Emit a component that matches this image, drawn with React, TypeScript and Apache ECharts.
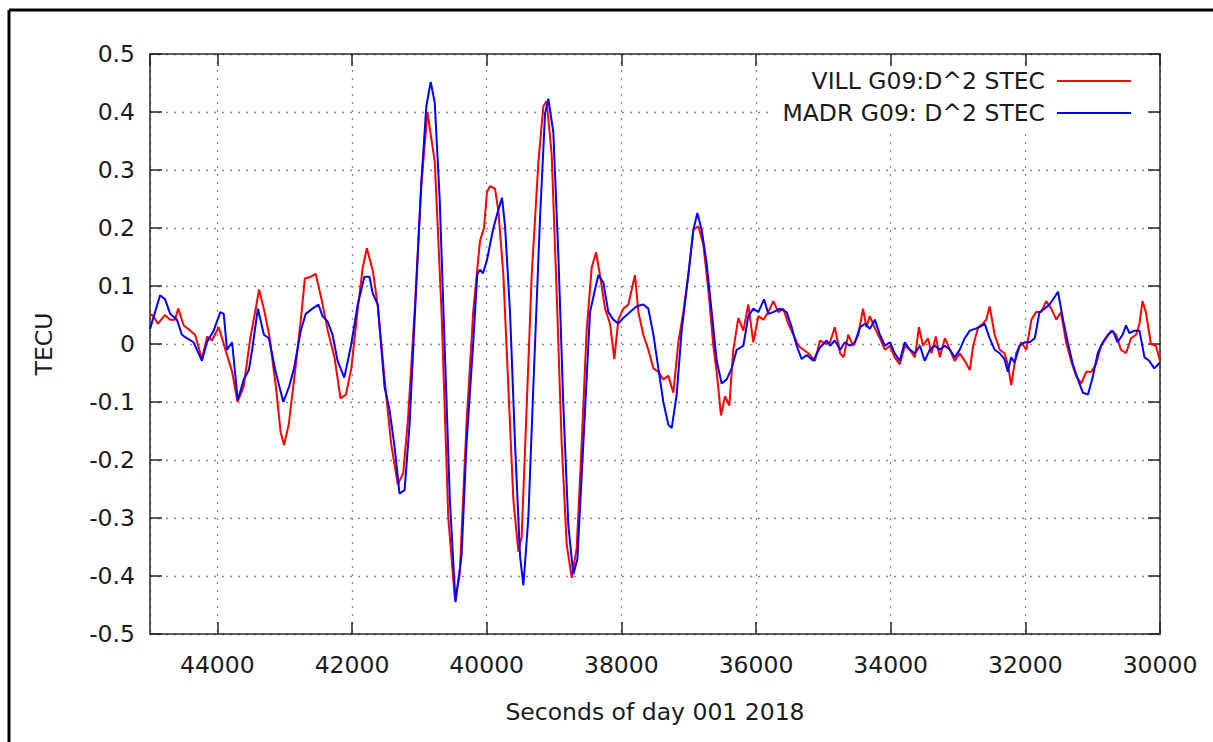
import React, { useEffect, useRef } from "react";
import * as echarts from "echarts";

const SERIES_NAMES = ["VILL G09:D^2 STEC", "MADR G09: D^2 STEC"];
const X_TITLE = "Seconds of day 001 2018";
const Y_TITLE = "TECU";

// VILL G09 (red): [seconds of day, TECU]
const villData: [number, number][] = [
  [45000, 0.052], [44950, 0.048], [44880, 0.035], [44780, 0.05], [44700, 0.042], [44630, 0.042],
  [44580, 0.061], [44500, 0.032], [44400, 0.023], [44330, 0.016], [44230, -0.026], [44150, 0.013],
  [44080, 0.006], [43980, 0.029], [43880, -0.01], [43780, -0.048], [43700, -0.1], [43610, -0.074],
  [43510, 0.01], [43430, 0.061], [43380, 0.094], [43310, 0.061], [43230, 0.016], [43130, -0.074],
  [43060, -0.152], [43010, -0.174], [42940, -0.139], [42840, -0.042], [42760, 0.042], [42700, 0.113],
  [42610, 0.116], [42540, 0.121], [42460, 0.081], [42360, 0.023], [42260, -0.023], [42170, -0.094],
  [42090, -0.087], [42010, -0.042], [41920, 0.055], [41840, 0.132], [41780, 0.165], [41690, 0.126],
  [41620, 0.068], [41520, -0.055], [41420, -0.171], [41320, -0.242], [41240, -0.223], [41170, -0.132],
  [41070, 0.055], [40970, 0.274], [40880, 0.4], [40770, 0.313], [40670, 0.055], [40570, -0.3],
  [40470, -0.442], [40400, -0.397], [40300, -0.139], [40200, 0.055], [40100, 0.177], [40040, 0.2],
  [39995, 0.262], [39950, 0.272], [39876, 0.268], [39826, 0.229], [39752, 0.119], [39678, -0.074],
  [39604, -0.268], [39529, -0.358], [39480, -0.332], [39405, -0.106], [39331, 0.119], [39232, 0.313],
  [39158, 0.41], [39109, 0.419], [39034, 0.326], [38960, 0.087], [38886, -0.171], [38812, -0.345],
  [38737, -0.403], [38663, -0.352], [38589, -0.171], [38515, 0.023], [38440, 0.132], [38376, 0.158],
  [38317, 0.119], [38242, 0.061], [38168, 0.035], [38104, -0.026], [38044, 0.042], [37970, 0.061],
  [37896, 0.068], [37846, 0.094], [37797, 0.119], [37747, 0.055], [37673, 0.016], [37599, -0.01],
  [37524, -0.042], [37450, -0.048], [37376, -0.061], [37302, -0.055], [37227, -0.084], [37153, 0.003],
  [37079, 0.055], [37005, 0.119], [36930, 0.197], [36856, 0.203], [36782, 0.171], [36708, 0.094],
  [36634, -0.003], [36584, -0.048], [36520, -0.123], [36460, -0.09], [36396, -0.106], [36337, -0.01],
  [36262, 0.045], [36188, 0.023], [36114, 0.068], [36040, 0.003], [35965, 0.048], [35891, 0.042],
  [35817, 0.055], [35743, 0.074], [35668, 0.055], [35594, 0.061], [35520, 0.035], [35446, 0.016],
  [35371, -0.003], [35297, -0.01], [35223, -0.016], [35124, -0.029], [35050, 0.006], [34960, 0.0],
  [34900, 0.003], [34830, 0.029], [34750, -0.016], [34700, -0.023], [34630, 0.016], [34560, -0.003],
  [34480, 0.016], [34410, 0.061], [34360, 0.029], [34310, 0.048], [34230, 0.026], [34160, 0.01],
  [34085, -0.01], [34010, -0.003], [33940, -0.023], [33865, -0.035], [33790, -0.003], [33715, -0.01],
  [33640, -0.023], [33580, 0.029], [33520, -0.003], [33445, 0.01], [33395, -0.016], [33330, 0.013],
  [33270, -0.023], [33195, 0.01], [33120, -0.01], [33050, -0.029], [32975, -0.016], [32900, -0.029],
  [32825, -0.045], [32775, -0.003], [32700, 0.029], [32630, 0.035], [32580, 0.042], [32530, 0.065],
  [32455, 0.016], [32380, -0.01], [32310, -0.016], [32260, -0.035], [32210, -0.071], [32135, -0.016],
  [32060, 0.003], [31985, -0.01], [31910, 0.042], [31840, 0.055], [31765, 0.055], [31690, 0.074],
  [31615, 0.061], [31540, 0.042], [31470, 0.055], [31395, 0.003], [31320, -0.029], [31245, -0.055],
  [31170, -0.068], [31095, -0.048], [31020, -0.048], [30950, -0.035], [30875, -0.003], [30800, 0.01],
  [30725, 0.023], [30650, 0.016], [30580, -0.01], [30505, -0.016], [30430, 0.01], [30355, 0.016],
  [30305, 0.035], [30260, 0.074], [30210, 0.055], [30135, 0.0], [30060, -0.003], [30000, -0.029],
];

// MADR G09 (blue): [seconds of day, TECU]
const madrData: [number, number][] = [
  [45000, 0.026], [44925, 0.055], [44850, 0.084], [44776, 0.077], [44700, 0.052], [44600, 0.042],
  [44527, 0.016], [44453, 0.01], [44353, 0.003], [44229, -0.029], [44154, 0.003], [44055, 0.023],
  [43955, 0.055], [43905, 0.052], [43856, -0.01], [43781, 0.003], [43697, -0.097], [43607, -0.061],
  [43532, -0.045], [43483, -0.01], [43398, 0.061], [43308, 0.016], [43234, 0.01], [43134, -0.048],
  [43020, -0.1], [42935, -0.074], [42861, -0.042], [42761, 0.023], [42687, 0.052], [42587, 0.061],
  [42498, 0.068], [42438, 0.048], [42363, 0.039], [42289, 0.016], [42214, -0.029], [42115, -0.058],
  [42015, -0.003], [41915, 0.068], [41816, 0.116], [41741, 0.116], [41692, 0.087], [41617, 0.068],
  [41517, -0.074], [41443, -0.113], [41368, -0.177], [41294, -0.258], [41219, -0.252], [41145, -0.139],
  [41070, 0.042], [40970, 0.281], [40896, 0.41], [40831, 0.452], [40771, 0.416], [40697, 0.248],
  [40622, -0.01], [40547, -0.268], [40463, -0.445], [40373, -0.365], [40299, -0.171], [40199, 0.003],
  [40140, 0.12], [40100, 0.128], [40055, 0.122], [39995, 0.145], [39906, 0.197], [39830, 0.23],
  [39772, 0.252], [39727, 0.203], [39653, 0.055], [39579, -0.171], [39505, -0.365], [39455, -0.416],
  [39381, -0.3], [39307, -0.074], [39208, 0.216], [39133, 0.397], [39084, 0.423], [39010, 0.365],
  [38935, 0.152], [38861, -0.106], [38787, -0.313], [38713, -0.397], [38653, -0.371], [38564, -0.171],
  [38465, 0.055], [38391, 0.094], [38341, 0.119], [38267, 0.106], [38193, 0.055], [38119, 0.042],
  [38044, 0.035], [37970, 0.045], [37871, 0.055], [37772, 0.065], [37673, 0.068], [37599, 0.061],
  [37524, 0.016], [37450, -0.042], [37376, -0.1], [37302, -0.139], [37252, -0.145], [37178, -0.087],
  [37104, 0.023], [37005, 0.119], [36930, 0.197], [36871, 0.226], [36807, 0.197], [36733, 0.139],
  [36658, 0.055], [36584, -0.029], [36510, -0.068], [36436, -0.061], [36361, -0.042], [36287, -0.01],
  [36188, -0.003], [36114, 0.048], [36040, 0.061], [35965, 0.055], [35881, 0.077], [35817, 0.052],
  [35743, 0.055], [35644, 0.061], [35545, 0.055], [35470, 0.029], [35396, -0.003], [35322, -0.026],
  [35248, -0.019], [35149, -0.029], [35050, -0.006], [34950, 0.006], [34900, -0.003], [34830, 0.006],
  [34750, -0.01], [34680, 0.003], [34605, -0.003], [34530, 0.003], [34455, 0.029], [34380, 0.035],
  [34310, 0.026], [34235, 0.042], [34160, 0.016], [34085, -0.003], [34010, 0.003], [33940, -0.016],
  [33865, -0.029], [33790, 0.003], [33715, -0.01], [33640, -0.016], [33565, -0.003], [33495, -0.029],
  [33420, -0.01], [33345, -0.003], [33270, -0.01], [33195, -0.003], [33120, -0.01], [33050, -0.023],
  [32975, -0.01], [32900, 0.01], [32825, 0.023], [32750, 0.026], [32680, 0.029], [32605, 0.035],
  [32530, 0.01], [32455, -0.01], [32380, -0.016], [32310, -0.026], [32260, -0.048], [32210, -0.023],
  [32160, -0.032], [32085, -0.003], [32010, 0.003], [31935, 0.003], [31860, 0.01], [31790, 0.055],
  [31715, 0.061], [31640, 0.068], [31565, 0.081], [31515, 0.09], [31440, 0.042], [31370, 0.003],
  [31295, -0.035], [31220, -0.061], [31145, -0.084], [31070, -0.087], [30995, -0.055], [30925, -0.016],
  [30850, 0.003], [30775, 0.016], [30700, 0.023], [30630, 0.003], [30555, 0.016], [30505, 0.032],
  [30455, 0.019], [30380, 0.023], [30305, 0.023], [30230, -0.023], [30160, -0.029], [30085, -0.042],
  [30000, -0.032],
];

const X_MIN = 30000;
const X_MAX = 45000;
const X_STEP = 2000;
const Y_MIN = -0.5;
const Y_MAX = 0.5;
const Y_STEP = 0.1;

const FONT = "DejaVu Sans";
const TEXT_COLOR = "#1a1a1a";
const AXIS_COLOR = "#262626";
const GRID_COLOR = "#8c8c8c";
const FS = 23.5;

export default function App() {
  const ref = useRef<HTMLDivElement>(null);

  useEffect(() => {
    if (!ref.current) return;
    const chart = echarts.init(ref.current, undefined, { renderer: "svg" });

    const axisLine = { show: true, onZero: false, lineStyle: { color: AXIS_COLOR, width: 1.5 } };
    const axisTick = { show: true, inside: true, length: 12, lineStyle: { color: AXIS_COLOR, width: 1.5 } };
    const splitLine = { show: true, lineStyle: { color: GRID_COLOR, width: 1.3, type: [2, 6] as any } };
    const yFmt = (v: number) => String(parseFloat(v.toFixed(1)));
    const xFmt = (v: number) => String(Math.round(v));

    chart.setOption({
      animation: false,
      backgroundColor: "#ffffff",
      grid: { left: 150, right: 53, top: 54, bottom: 108, containLabel: false },
      xAxis: [
        {
          type: "value", min: X_MIN, max: X_MAX, interval: X_STEP, inverse: true, position: "bottom",
          axisLine, axisTick, splitLine,
          axisLabel: { show: true, margin: 19, fontSize: FS, fontFamily: FONT, color: TEXT_COLOR, showMaxLabel: false, showMinLabel: true, formatter: xFmt },
          name: X_TITLE, nameLocation: "middle", nameGap: 66,
          nameTextStyle: { fontSize: FS, fontFamily: FONT, color: TEXT_COLOR },
        },
        {
          type: "value", min: X_MIN, max: X_MAX, interval: X_STEP, inverse: true, position: "top",
          axisLine, axisTick, splitLine: { show: false }, axisLabel: { show: false },
        },
      ],
      yAxis: [
        {
          type: "value", min: Y_MIN, max: Y_MAX, interval: Y_STEP, position: "left",
          axisLine, axisTick, splitLine,
          axisLabel: { show: true, margin: 15, fontSize: FS, fontFamily: FONT, color: TEXT_COLOR, formatter: yFmt },
          name: Y_TITLE, nameLocation: "middle", nameGap: 94, nameRotate: 90,
          nameTextStyle: { fontSize: FS, fontFamily: FONT, color: TEXT_COLOR },
        },
        {
          type: "value", min: Y_MIN, max: Y_MAX, interval: Y_STEP, position: "right",
          axisLine, axisTick, splitLine: { show: false }, axisLabel: { show: false },
        },
      ],
      legend: [
        {
          data: [SERIES_NAMES[0]], orient: "vertical", align: "right", right: 82, top: 69, padding: 0,
          icon: "rect", itemWidth: 74, itemHeight: 2,
          textStyle: { fontSize: FS, fontFamily: FONT, color: TEXT_COLOR, padding: [0, 7, 0, 0] },
        },
        {
          data: [SERIES_NAMES[1]], orient: "vertical", align: "right", right: 82, top: 101, padding: 0,
          icon: "rect", itemWidth: 74, itemHeight: 2,
          textStyle: { fontSize: FS, fontFamily: FONT, color: TEXT_COLOR, padding: [0, 7, 0, 0] },
        },
      ],
      graphic: [
        { type: "rect", z: 1, shape: { x: 772, y: 67, width: 374, height: 61 }, style: { fill: "#ffffff" } },
        { type: "line", z: 10, shape: { x1: 9, y1: 10, x2: 1213, y2: 10 }, style: { stroke: "#000", lineWidth: 3 } },
        { type: "line", z: 10, shape: { x1: 9, y1: 10, x2: 9, y2: 742 }, style: { stroke: "#000", lineWidth: 3 } },
      ],
      series: [
        {
          name: SERIES_NAMES[0], type: "line", data: villData, showSymbol: false, z: 3,
          lineStyle: { color: "#ff0000", width: 2 }, itemStyle: { color: "#ff0000" },
        },
        {
          name: SERIES_NAMES[1], type: "line", data: madrData, showSymbol: false, z: 4,
          lineStyle: { color: "#0000ff", width: 2 }, itemStyle: { color: "#0000ff" },
        },
      ],
    });

    return () => chart.dispose();
  }, []);

  return (
    <div
      ref={ref}
      style={{ width: 1213, height: 742, position: "absolute", left: 0, top: 0 }}
    />
  );
}
